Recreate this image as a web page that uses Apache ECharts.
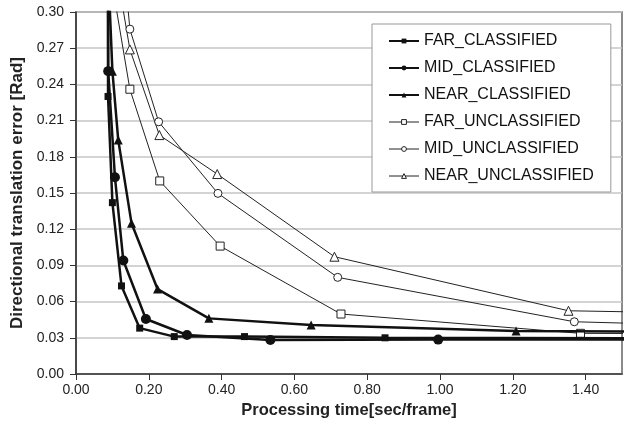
<!DOCTYPE html>
<html>
<head>
<meta charset="utf-8">
<script src="https://cdn.jsdelivr.net/npm/echarts@6/dist/echarts.min.js"></script>
<style>
  html, body { margin: 0; padding: 0; background: #fff; }
  #chart { width: 624px; height: 429px; }
</style>
</head>
<body>
<div id="chart"></div>
<script>
// values, [time, error]
// a few points sit outside the axes so the lines run off the edges
const farClassified = [[0.088, 0.33], [0.088, 0.23], [0.100, 0.142], [0.125, 0.073], [0.175, 0.038], [0.270, 0.031], [0.463, 0.031], [0.849, 0.030], [1.6, 0.0295]]
const midClassified = [[0.088, 0.33], [0.0885, 0.251], [0.107, 0.163], [0.130, 0.094], [0.192, 0.0456], [0.305, 0.0323], [0.534, 0.0282], [0.995, 0.0285], [1.6, 0.0285]]
const nearClassified = [[0.089, 0.33], [0.100, 0.251], [0.116, 0.194], [0.1525, 0.125], [0.224, 0.0704], [0.365, 0.0461], [0.646, 0.0406], [1.209, 0.0356], [1.6, 0.035]]
const farUnclassified = [[0.100, 0.322], [0.148, 0.236], [0.230, 0.160], [0.396, 0.106], [0.728, 0.0497], [1.386, 0.0337], [1.6, 0.0335]]
const midUnclassified = [[0.136, 0.326], [0.148, 0.2858], [0.227, 0.209], [0.390, 0.1497], [0.719, 0.0801], [1.369, 0.0433], [1.6, 0.0414]]
const nearUnclassified = [[0.116, 0.326], [0.148, 0.269], [0.229, 0.198], [0.388, 0.1657], [0.710, 0.0972], [1.353, 0.0524], [1.6, 0.0511]]
const seriesNames = ['FAR_CLASSIFIED', 'MID_CLASSIFIED', 'NEAR_CLASSIFIED', 'FAR_UNCLASSIFIED', 'MID_UNCLASSIFIED', 'NEAR_UNCLASSIFIED']

const font = 'Liberation Sans, Arial, sans-serif'

function classified(name, data, symbol, size) {
  return {
    name: name,
    type: 'line',
    data: data,
    symbol: symbol,
    symbolSize: size,
    lineStyle: { color: '#111', width: 2.5 },
    itemStyle: { color: '#111', borderWidth: 0 },
    z: 3,
  }
}
function unclassified(name, data, symbol, size) {
  return {
    name: name,
    type: 'line',
    data: data,
    symbol: symbol,
    symbolSize: size,
    lineStyle: { color: '#222', width: 1 },
    itemStyle: { color: '#fff', borderColor: '#222', borderWidth: 1 },
    z: 2,
  }
}

// legend icons: thick line + solid mark for classified, thin line + open mark for unclassified
const legendData = seriesNames.map((n, i) => i < 3
  ? { name: n, lineStyle: { color: '#111', width: 2 }, itemStyle: { color: '#111', borderWidth: 0 } }
  : { name: n, lineStyle: { color: '#222', width: 1 }, itemStyle: { color: '#fff', borderColor: '#222', borderWidth: 1 } })

const chart = echarts.init(document.getElementById('chart'))
chart.setOption({
  animation: false,
  textStyle: { fontFamily: font },
  grid: {
    left: 76, right: 2, top: 12, bottom: 55,
    show: true, borderColor: '#666', borderWidth: 1.5,
  },
  legend: {
    orient: 'vertical',
    left: 372, top: 24,
    padding: [9, 17, 8, 16],
    itemWidth: 30, itemHeight: 6, itemGap: 11,
    backgroundColor: '#fff',
    borderColor: '#999', borderWidth: 1,
    textStyle: { fontFamily: font, fontSize: 16, color: '#111' },
    data: legendData,
  },
  xAxis: {
    type: 'value',
    min: 0, max: 1.5, interval: 0.2,
    name: 'Processing time[sec/frame]',
    nameLocation: 'middle', nameGap: 27,
    nameTextStyle: { fontFamily: font, fontSize: 16.5, fontWeight: 'bold', color: '#222' },
    axisLine: { lineStyle: { color: '#333', width: 1.5 } },
    axisTick: { show: true, length: 6, lineStyle: { color: '#333', width: 1 } },
    axisLabel: {
      fontFamily: font, fontSize: 14, color: '#222', margin: 9,
      formatter: v => v.toFixed(2),
      showMaxLabel: false,
    },
    splitLine: { show: false },
  },
  yAxis: {
    type: 'value',
    min: 0, max: 0.3, interval: 0.03,
    name: 'Directional translation error [Rad]',
    nameLocation: 'middle', nameGap: 37,
    nameTextStyle: { fontFamily: font, fontSize: 17, fontWeight: 'bold', color: '#222' },
    axisLine: { show: true, lineStyle: { color: '#333', width: 1.5 } },
    axisTick: { show: true, length: 6, lineStyle: { color: '#333', width: 1 } },
    axisLabel: {
      fontFamily: font, fontSize: 14, color: '#222', margin: 12,
      formatter: v => v.toFixed(2),
    },
    splitLine: { show: true, lineStyle: { color: '#c6c6c6', width: 1.5 } },
  },
  series: [
    classified(seriesNames[0], farClassified, 'rect', 7),
    classified(seriesNames[1], midClassified, 'circle', 10),
    classified(seriesNames[2], nearClassified, 'triangle', 9),
    unclassified(seriesNames[3], farUnclassified, 'rect', 8),
    unclassified(seriesNames[4], midUnclassified, 'circle', 8),
    unclassified(seriesNames[5], nearUnclassified, 'triangle', 9),
  ],
})
</script>
</body>
</html>
